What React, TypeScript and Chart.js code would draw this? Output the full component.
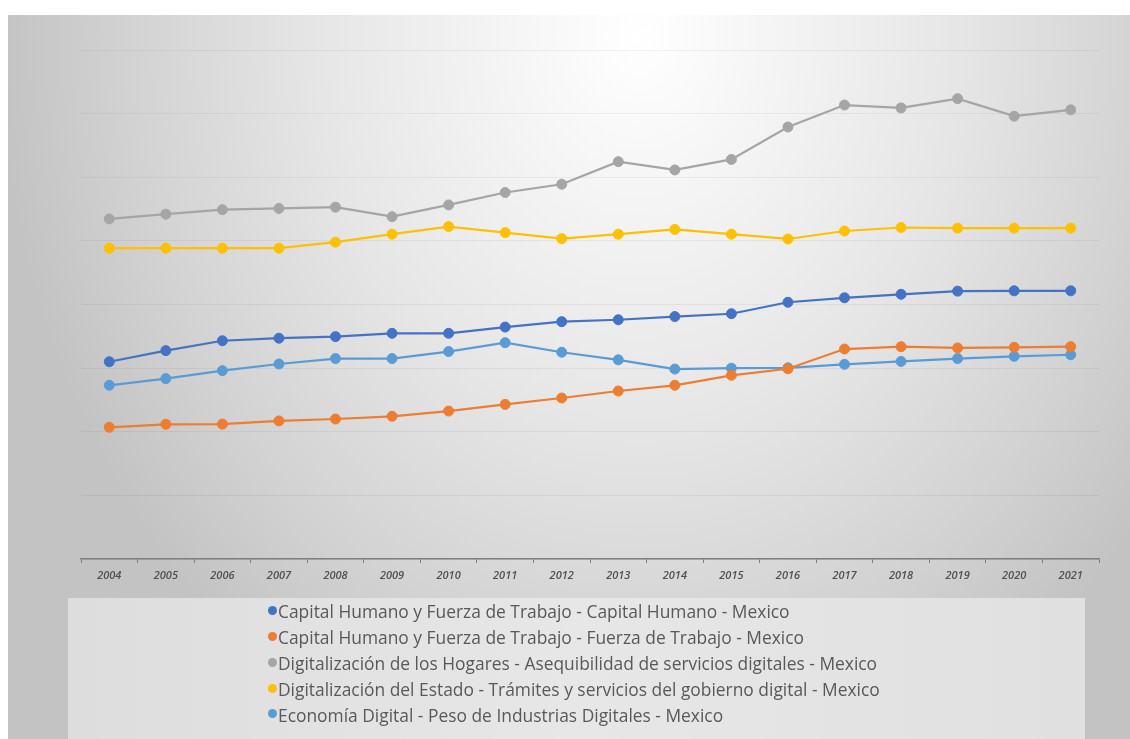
import React, { useEffect, useRef } from "react";
import { Chart, registerables } from "chart.js";

Chart.register(...registerables);

const years = ["2004", "2005", "2006", "2007", "2008", "2009", "2010", "2011", "2012", "2013", "2014", "2015", "2016", "2017", "2018", "2019", "2020", "2021"];

const capitalHumano = [3.1, 3.275, 3.43, 3.47, 3.495, 3.547, 3.547, 3.645, 3.73, 3.76, 3.81, 3.855, 4.035, 4.105, 4.16, 4.21, 4.215, 4.215];
const fuerzaTrabajo = [2.07, 2.117, 2.12, 2.17, 2.2, 2.243, 2.325, 2.43, 2.53, 2.64, 2.73, 2.887, 2.99, 3.3, 3.337, 3.317, 3.327, 3.337];
const asequibilidad = [5.345, 5.42, 5.49, 5.51, 5.53, 5.38, 5.565, 5.76, 5.89, 6.245, 6.115, 6.28, 6.79, 7.135, 7.09, 7.235, 6.96, 7.06];
const tramites = [4.885, 4.885, 4.885, 4.885, 4.98, 5.105, 5.225, 5.13, 5.035, 5.105, 5.18, 5.105, 5.03, 5.155, 5.21, 5.2, 5.2, 5.2];
const economiaDigital = [2.73, 2.835, 2.96, 3.065, 3.15, 3.15, 3.26, 3.4, 3.25, 3.13, 2.985, 3.0, 3.005, 3.06, 3.105, 3.15, 3.185, 3.21];

const seriesLabels = [
  "Capital Humano y Fuerza de Trabajo - Capital Humano - Mexico",
  "Capital Humano y Fuerza de Trabajo - Fuerza de Trabajo - Mexico",
  "Digitalización de los Hogares - Asequibilidad de servicios digitales - Mexico",
  "Digitalización del Estado - Trámites y servicios del gobierno digital - Mexico",
  "Economía Digital - Peso de Industrias Digitales - Mexico",
];
const seriesValues = [capitalHumano, fuerzaTrabajo, asequibilidad, tramites, economiaDigital];
const seriesColors = ["#4472C4", "#ED7D31", "#A5A5A5", "#FFC000", "#5B9BD5"];

export default function App() {
  const canvasRef = useRef<HTMLCanvasElement | null>(null);

  useEffect(() => {
    if (!canvasRef.current) return;
    const chart = new Chart(canvasRef.current, {
      type: "line",
      data: {
        labels: years,
        datasets: seriesValues.map((vals, i) => ({
          label: seriesLabels[i],
          data: vals,
          borderColor: seriesColors[i],
          backgroundColor: seriesColors[i],
          pointBackgroundColor: seriesColors[i],
          pointBorderColor: seriesColors[i],
          borderWidth: 2.2,
          pointRadius: 5,
          pointBorderWidth: 1,
          tension: 0,
          fill: false,
        })),
      },
      options: {
        responsive: false,
        maintainAspectRatio: false,
        animation: false,
        devicePixelRatio: 1,
        layout: { padding: { left: 73, right: 31, top: 35, bottom: 9 } },
        plugins: {
          legend: { display: false },
          tooltip: { enabled: false },
          title: { display: false },
        },
        scales: {
          x: {
            type: "category",
            offset: true,
            afterFit: (s: any) => {
              s.height = 30;
            },
            border: { display: true, color: "#7f7f7f", width: 1.5 },
            grid: {
              display: true,
              drawOnChartArea: false,
              drawTicks: true,
              tickLength: 4,
              color: "#7f7f7f",
              offset: true,
            },
            ticks: {
              color: "#505050",
              padding: 6,
              maxRotation: 0,
              autoSkip: false,
              font: { family: "'Open Sans'", size: 11, style: "italic", weight: "600" },
            },
          },
          y: {
            min: 0,
            max: 8,
            afterFit: (s: any) => {
              s.width = 0;
            },
            border: { display: false },
            grid: { color: "rgba(0,0,0,0.05)", lineWidth: 1, drawTicks: false },
            ticks: { display: false, stepSize: 1 },
          },
        },
      },
    });
    return () => chart.destroy();
  }, []);

  return (
    <div
      style={{
        position: "fixed",
        left: 8,
        top: 15,
        width: 1122,
        height: 724,
        overflow: "hidden",
        background:
          "radial-gradient(ellipse 640px 780px at 630px 20px, #ffffff 0%, #f6f6f6 18%, #e6e6e6 50%, #d2d2d2 80%, #c3c3c3 100%)",
      }}
    >
      <canvas
        ref={canvasRef}
        width={1122}
        height={583}
        style={{ position: "absolute", left: 0, top: 0, width: 1122, height: 583 }}
      />
      <div
        style={{
          position: "absolute",
          left: 60,
          top: 583,
          width: 1017,
          height: 141,
          background: "linear-gradient(to right, #dddddd, #e7e7e7 50%, #e0e0e0)",
          fontFamily: "'Open Sans', sans-serif",
          fontSize: 17.4,
          color: "#595959",
        }}
      >
        {seriesLabels.map((lab, i) => (
          <div
            key={lab}
            style={{ position: "absolute", left: 200, top: -2 + i * 25.9, height: 26, lineHeight: "26px", whiteSpace: "nowrap" }}
          >
            <span
              style={{
                display: "inline-block",
                width: 9,
                height: 9,
                borderRadius: "50%",
                background: seriesColors[i],
                marginRight: 1,
                verticalAlign: "middle",
                position: "relative",
                top: -1,
              }}
            />
            <span style={{ verticalAlign: "middle" }}>{lab}</span>
          </div>
        ))}
      </div>
    </div>
  );
}
